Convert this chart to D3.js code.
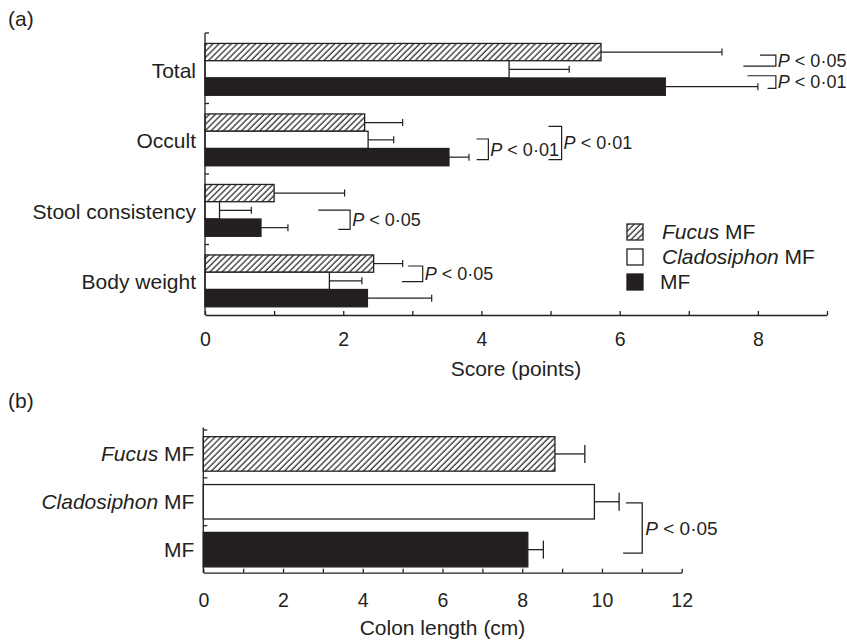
<!DOCTYPE html>
<html>
<head>
<meta charset="utf-8">
<script src="https://cdn.jsdelivr.net/npm/d3@7"></script>
<style>
  body { margin: 0; background: #fff; }
  text { font-family: 'Liberation Sans', Arial, Helvetica, sans-serif; fill: #231f20; }
</style>
</head>
<body>
<script>
// data
const categories = ['Total', 'Occult', 'Stool consistency', 'Body weight'];
const groups = ['Fucus MF', 'Cladosiphon MF', 'MF'];

// panel (a) scores (points), mean and error
const fucusScore = [5.73, 2.31, 1.00, 2.44];
const fucusErr = [1.75, 0.55, 1.02, 0.42];
const cladoScore = [4.40, 2.36, 0.21, 1.80];
const cladoErr = [0.87, 0.37, 0.46, 0.47];
const mfScore = [6.66, 3.53, 0.81, 2.35];
const mfErr = [1.34, 0.29, 0.39, 0.93];

// panel (b) colon length (cm)
const colonLength = [8.82, 9.81, 8.14];
const colonErr = [0.75, 0.62, 0.39];

const scoreTicks = d3.range(0, 10);
const colonTicks = d3.range(0, 13);

// significance brackets for panel (a): x in score units, y in bar slots
const bracketsA = [
    {cat: 'Total', xTop: 8.03, xBot: 7.79, xv: 8.26, sTop: 0.68, sBot: 1.31, label: '0·05'},
    {cat: 'Total', xTop: 7.85, xBot: 8.14, xv: 8.26, sTop: 1.87, sBot: 2.6, label: '0·01'},
    {cat: 'Occult', xTop: 3.93, xBot: 3.93, xv: 4.10, sTop: 1.45, sBot: 2.64, label: '0·01'},
    {cat: 'Occult', xTop: 4.97, xBot: 4.97, xv: 5.16, sTop: 0.72, sBot: 2.64, label: '0·01'},
    {cat: 'Stool consistency', xTop: 1.64, xBot: 1.93, xv: 2.10, sTop: 1.49, sBot: 2.6, label: '0·05'},
    {cat: 'Body weight', xTop: 2.94, xBot: 2.85, xv: 3.15, sTop: 0.64, sBot: 1.54, label: '0·05'}
];

const ink = '#231f20';
const fills = ['url(#hatch)', '#fff', ink];

const svg = d3.select('body').append('svg')
    .attr('width', 847)
    .attr('height', 640);

// hatch pattern
svg.append('defs').append('pattern')
    .attr('id', 'hatch')
    .attr('patternUnits', 'userSpaceOnUse')
    .attr('width', 4.3)
    .attr('height', 10)
    .attr('patternTransform', 'rotate(45)')
    .append('line')
    .attr('x1', 1).attr('x2', 1)
    .attr('y1', 0).attr('y2', 10)
    .attr('stroke', ink)
    .attr('stroke-width', 1.2);

// ---------- panel (a) ----------
const xA = d3.scaleLinear().domain([0, 9]).range([205, 827]);
const yA = d3.scaleBand().domain(categories).range([33, 315]);
const inner = d3.scaleBand().domain(groups).range([0, yA.bandwidth()])
    .paddingOuter(0.54).align(0.56);

const seriesA = [
    {vals: fucusScore, errs: fucusErr},
    {vals: cladoScore, errs: cladoErr},
    {vals: mfScore, errs: mfErr}
];

const gA = svg.append('g');

seriesA.forEach((s, gi) => {
    const rows = categories.map((c, i) => ({cat: c, v: s.vals[i], e: s.errs[i]}));
    const y0 = d => yA(d.cat) + inner(groups[gi]);
    const bh = inner.bandwidth();

    gA.selectAll(null).data(rows).enter().append('line')
        .attr('x1', d => xA(d.v)).attr('x2', d => xA(d.v + d.e))
        .attr('y1', d => y0(d) + bh / 2).attr('y2', d => y0(d) + bh / 2)
        .attr('stroke', ink).attr('stroke-width', 1.2);
    gA.selectAll(null).data(rows).enter().append('line')
        .attr('x1', d => xA(d.v + d.e)).attr('x2', d => xA(d.v + d.e))
        .attr('y1', d => y0(d) + bh / 2 - 3.5).attr('y2', d => y0(d) + bh / 2 + 3.5)
        .attr('stroke', ink).attr('stroke-width', 1.2);

    gA.selectAll(null).data(rows).enter().append('rect')
        .attr('x', xA(0))
        .attr('y', d => y0(d))
        .attr('width', d => xA(d.v) - xA(0))
        .attr('height', bh)
        .attr('fill', fills[gi])
        .attr('stroke', ink)
        .attr('stroke-width', 1.3);
});

// x axis (a)
gA.append('g')
    .attr('transform', `translate(0, 315)`)
    .call(d3.axisBottom(xA).tickValues(scoreTicks)
        .tickFormat(d => d % 2 === 0 ? d : '')
        .tickSizeInner(-4).tickSizeOuter(0).tickPadding(17))
    .call(g => g.selectAll('path, line').attr('stroke', ink).attr('stroke-width', 1.3))
    .call(g => g.selectAll('text').attr('font-size', 19.5).attr('fill', ink)
        .style('font-family', "'Liberation Sans', Arial, sans-serif"));

// y axis (a): line with ticks at band edges
const edgesA = categories.map(c => yA(c));
gA.append('line')
    .attr('x1', xA(0)).attr('x2', xA(0))
    .attr('y1', yA.range()[0]).attr('y2', yA.range()[1])
    .attr('stroke', ink).attr('stroke-width', 1.3);
gA.selectAll(null).data(edgesA).enter().append('line')
    .attr('x1', xA(0)).attr('x2', xA(0) + 4)
    .attr('y1', d => d).attr('y2', d => d)
    .attr('stroke', ink).attr('stroke-width', 1.3);

gA.selectAll(null).data(categories).enter().append('text')
    .attr('x', xA(0) - 9)
    .attr('y', d => yA(d) + yA.bandwidth() / 2 + 2)
    .attr('dy', '0.35em')
    .attr('text-anchor', 'end')
    .attr('font-size', 21)
    .text(d => d);

gA.append('text')
    .attr('x', (xA.range()[0] + xA.range()[1]) / 2)
    .attr('y', 376)
    .attr('text-anchor', 'middle')
    .attr('font-size', 21)
    .text('Score (points)');

// brackets (a)
const slotY = (cat, s) => yA(cat) + inner(groups[0]) + s * inner.bandwidth();
bracketsA.forEach(b => {
    const yt = slotY(b.cat, b.sTop), yb = slotY(b.cat, b.sBot);
    gA.append('path')
        .attr('d', `M${xA(b.xTop)},${yt}H${xA(b.xv)}V${yb}H${xA(b.xBot)}`)
        .attr('fill', 'none').attr('stroke', ink).attr('stroke-width', 1.2);
    const t = gA.append('text')
        .attr('x', xA(b.xv) + 2)
        .attr('y', (yt + yb) / 2)
        .attr('dy', '0.35em')
        .attr('font-size', 18);
    t.append('tspan').attr('font-style', 'italic').text('P');
    t.append('tspan').text(' < ' + b.label);
});

// legend
const legend = gA.append('g').attr('transform', 'translate(627, 224)');
groups.forEach((g, i) => {
    const row = legend.append('g').attr('transform', `translate(0, ${i * 25})`);
    row.append('rect')
        .attr('width', 16).attr('height', 16)
        .attr('fill', fills[i]).attr('stroke', ink).attr('stroke-width', 1.3);
    const t = row.append('text').attr('x', i === 2 ? 33 : 35).attr('y', 8).attr('dy', '0.35em')
        .attr('font-size', 21);
    const parts = g.split(' ');
    if (parts.length > 1) {
        t.append('tspan').attr('font-style', 'italic').text(parts[0]);
        t.append('tspan').text(' ' + parts[1]);
    } else {
        t.text(g);
    }
});

svg.append('text').attr('x', 8).attr('y', 26).attr('font-size', 21).text('(a)');

// ---------- panel (b) ----------
const xB = d3.scaleLinear().domain([0, 12]).range([203.3, 681.7]);
const yB = d3.scaleBand().domain(groups).range([427.5, 573])
    .paddingInner(0.28).paddingOuter(0.16).align(0.6);

const gB = svg.append('g');
const rowsB = groups.map((g, i) => ({g: g, v: colonLength[i], e: colonErr[i], i: i}));

gB.selectAll(null).data(rowsB).enter().append('line')
    .attr('x1', d => xB(d.v)).attr('x2', d => xB(d.v + d.e))
    .attr('y1', d => yB(d.g) + yB.bandwidth() / 2).attr('y2', d => yB(d.g) + yB.bandwidth() / 2)
    .attr('stroke', ink).attr('stroke-width', 1.3);
gB.selectAll(null).data(rowsB).enter().append('line')
    .attr('x1', d => xB(d.v + d.e)).attr('x2', d => xB(d.v + d.e))
    .attr('y1', d => yB(d.g) + yB.bandwidth() / 2 - 9).attr('y2', d => yB(d.g) + yB.bandwidth() / 2 + 9)
    .attr('stroke', ink).attr('stroke-width', 1.3);

gB.selectAll(null).data(rowsB).enter().append('rect')
    .attr('x', xB(0))
    .attr('y', d => yB(d.g))
    .attr('width', d => xB(d.v) - xB(0))
    .attr('height', yB.bandwidth())
    .attr('fill', d => fills[d.i])
    .attr('stroke', ink)
    .attr('stroke-width', 1.3);

gB.append('g')
    .attr('transform', 'translate(0, 572.7)')
    .call(d3.axisBottom(xB).tickValues(colonTicks)
        .tickFormat(d => d % 2 === 0 ? d : '')
        .tickSizeInner(-4).tickSizeOuter(0).tickPadding(20))
    .call(g => g.selectAll('path, line').attr('stroke', ink).attr('stroke-width', 1.3))
    .call(g => g.selectAll('text').attr('font-size', 19.5).attr('fill', ink)
        .style('font-family', "'Liberation Sans', Arial, sans-serif"));

const stepB = yB.step();
const edgesB = groups.map(g => yB(g) - yB.paddingInner() * stepB / 2);
gB.append('line')
    .attr('x1', xB(0)).attr('x2', xB(0))
    .attr('y1', yB.range()[0]).attr('y2', yB.range()[1])
    .attr('stroke', ink).attr('stroke-width', 1.3);
gB.selectAll(null).data(edgesB).enter().append('line')
    .attr('x1', xB(0)).attr('x2', xB(0) + 4)
    .attr('y1', d => d).attr('y2', d => d)
    .attr('stroke', ink).attr('stroke-width', 1.3);

gB.selectAll(null).data(groups).enter().append('text')
    .attr('x', xB(0) - 9)
    .attr('y', d => yB(d) + yB.bandwidth() / 2)
    .attr('dy', '0.35em')
    .attr('text-anchor', 'end')
    .attr('font-size', 21)
    .each(function (d) {
        const t = d3.select(this);
        const parts = d.split(' ');
        if (parts.length > 1) {
            t.append('tspan').attr('font-style', 'italic').text(parts[0]);
            t.append('tspan').text(' ' + parts[1]);
        } else {
            t.text(d);
        }
    });

gB.append('text')
    .attr('x', (xB.range()[0] + xB.range()[1]) / 2)
    .attr('y', 635)
    .attr('text-anchor', 'middle')
    .attr('font-size', 21)
    .text('Colon length (cm)');

// bracket (b)
const ytB = yB('Cladosiphon MF') + 0.53 * yB.bandwidth();
const ybB = yB('MF') + 0.6 * yB.bandwidth();
gB.append('path')
    .attr('d', `M${xB(10.60)},${ytB}H${xB(11.01)}V${ybB}H${xB(10.53)}`)
    .attr('fill', 'none').attr('stroke', ink).attr('stroke-width', 1.3);
const tb = gB.append('text')
    .attr('x', xB(11.01) + 3)
    .attr('y', (ytB + ybB) / 2)
    .attr('dy', '0.35em')
    .attr('font-size', 19);
tb.append('tspan').attr('font-style', 'italic').text('P');
tb.append('tspan').text(' < 0·05');

svg.append('text').attr('x', 8).attr('y', 408).attr('font-size', 21).text('(b)');
</script>
</body>
</html>
